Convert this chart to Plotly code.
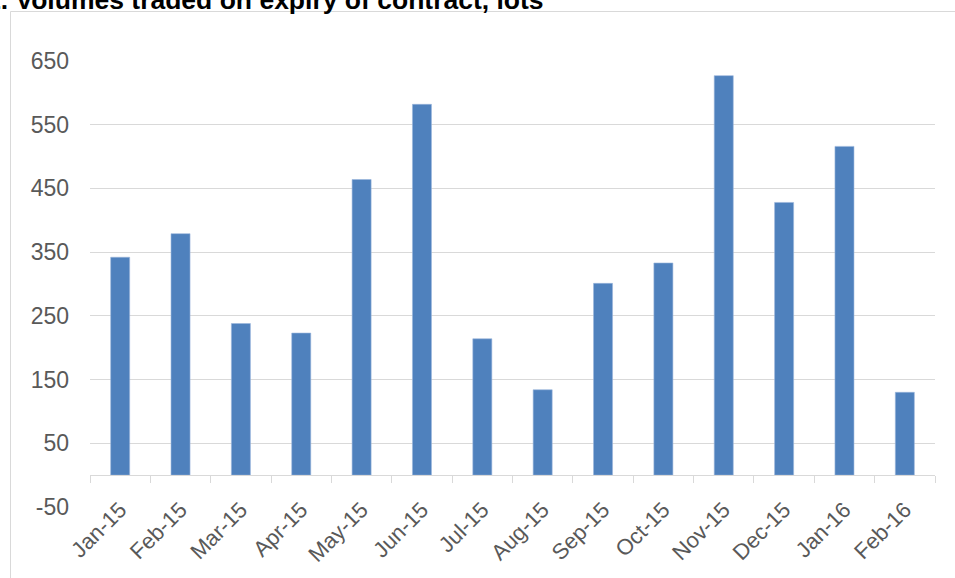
import plotly.graph_objects as go

months = ["Jan-15", "Feb-15", "Mar-15", "Apr-15", "May-15", "Jun-15", "Jul-15",
          "Aug-15", "Sep-15", "Oct-15", "Nov-15", "Dec-15", "Jan-16", "Feb-16"]
volumes = [342, 379, 238, 223, 464, 582, 214, 134, 301, 333, 627, 428, 516, 130]
y_ticks = [-50, 50, 150, 250, 350, 450, 550, 650]
title_text = "1. Volumes traded on expiry of contract, lots"

W, H = 955, 578
L, R, T, B = 90, 20, 61, 71
pw, ph = W - L - R, H - T - B

def px_x(p):
    return (p - L) / pw

def px_y(p):
    return (H - B - p) / ph

fig = go.Figure()
fig.add_trace(go.Bar(
    x=months, y=volumes,
    marker=dict(color="#4f81bd", line=dict(color="#9bb5dc", width=0.6)),
    hoverinfo="x+y",
))

y_min, y_max = -50, 650
zero_pos = (0 - y_min) / (y_max - y_min)

fig.update_layout(
    width=W, height=H,
    margin=dict(l=L, r=R, t=T, b=B),
    paper_bgcolor="white", plot_bgcolor="white",
    showlegend=False,
    bargap=0.685,
    font=dict(family="Liberation Sans, Arial, sans-serif", color="#595959", size=22),
    xaxis=dict(
        anchor="free", position=zero_pos, automargin=False,
        showgrid=False, showline=True, linecolor="#d9d9d9", linewidth=1,
        ticks="outside", ticklen=7, tickcolor="#d9d9d9", tickson="boundaries",
        tickangle=-45, tickfont=dict(size=22, color="#595959"),
        ticklabelstandoff=12,
        fixedrange=True,
    ),
    yaxis=dict(
        range=[y_min, y_max], tickvals=y_ticks, ticktext=[str(v) for v in y_ticks],
        automargin=False,
        showgrid=True, gridcolor="#d9d9d9", gridwidth=1,
        zeroline=False, showline=False, ticks="",
        tickfont=dict(size=23, color="#595959"),
        ticklabelstandoff=20,
        fixedrange=True,
    ),
    shapes=[
        dict(type="rect", xref="paper", yref="paper",
             x0=px_x(10.5), x1=px_x(W + 20), y0=px_y(11.5), y1=px_y(H + 20),
             line=dict(color="#d9d9d9", width=1), fillcolor="rgba(0,0,0,0)", layer="below"),
    ],
    annotations=[
        dict(text="<b>" + title_text + "</b>", xref="paper", yref="paper",
             x=px_x(-16.5), y=px_y(0), xanchor="left", yanchor="middle",
             showarrow=False, font=dict(size=26.5, color="#000000",
                                        family="Liberation Sans, Arial, sans-serif")),
    ],
)

fig.write_html("out.html")
